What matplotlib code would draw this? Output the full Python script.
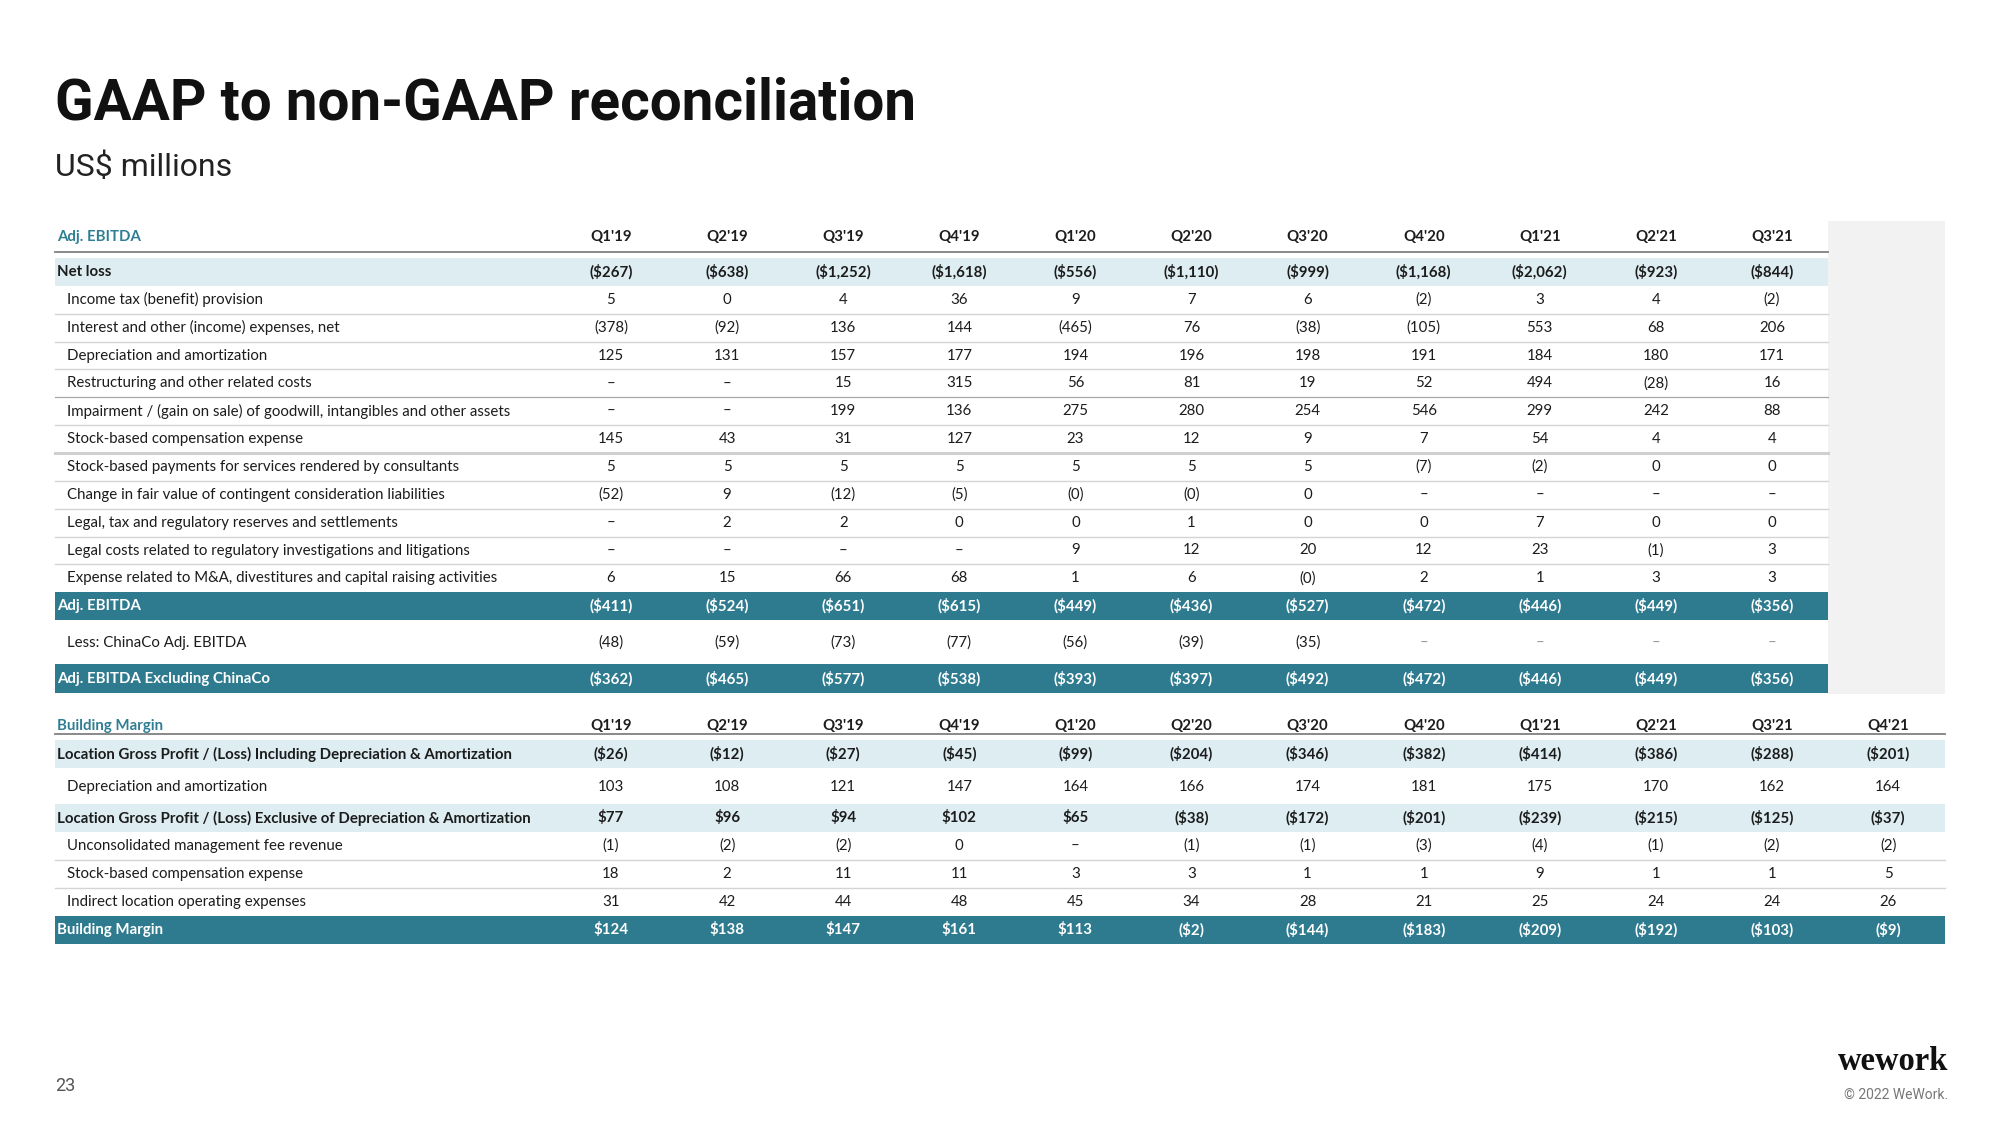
import matplotlib
matplotlib.use("Agg")
import matplotlib.pyplot as plt
from matplotlib.patches import Rectangle

# ---------------- data ----------------
quarters_top = ["Q1'19", "Q2'19", "Q3'19", "Q4'19", "Q1'20", "Q2'20", "Q3'20",
                "Q4'20", "Q1'21", "Q2'21", "Q3'21"]
quarters_bottom = quarters_top + ["Q4'21"]

net_loss = ["($267)", "($638)", "($1,252)", "($1,618)", "($556)", "($1,110)", "($999)",
            "($1,168)", "($2,062)", "($923)", "($844)"]
income_tax = ["5", "0", "4", "36", "9", "7", "6", "(2)", "3", "4", "(2)"]
interest_other = ["(378)", "(92)", "136", "144", "(465)", "76", "(38)", "(105)", "553", "68", "206"]
dep_amort = ["125", "131", "157", "177", "194", "196", "198", "191", "184", "180", "171"]
restructuring = ["–", "–", "15", "315", "56", "81", "19", "52", "494", "(28)", "16"]
impairment = ["–", "–", "199", "136", "275", "280", "254", "546", "299", "242", "88"]
sbc_expense = ["145", "43", "31", "127", "23", "12", "9", "7", "54", "4", "4"]
sb_consultants = ["5", "5", "5", "5", "5", "5", "5", "(7)", "(2)", "0", "0"]
contingent = ["(52)", "9", "(12)", "(5)", "(0)", "(0)", "0", "–", "–", "–", "–"]
legal_reserves = ["–", "2", "2", "0", "0", "1", "0", "0", "7", "0", "0"]
legal_costs = ["–", "–", "–", "–", "9", "12", "20", "12", "23", "(1)", "3"]
ma_expense = ["6", "15", "66", "68", "1", "6", "(0)", "2", "1", "3", "3"]
adj_ebitda = ["($411)", "($524)", "($651)", "($615)", "($449)", "($436)", "($527)",
              "($472)", "($446)", "($449)", "($356)"]
chinaco = ["(48)", "(59)", "(73)", "(77)", "(56)", "(39)", "(35)", "–", "–", "–", "–"]
adj_ebitda_ex_china = ["($362)", "($465)", "($577)", "($538)", "($393)", "($397)", "($492)",
                       "($472)", "($446)", "($449)", "($356)"]

lgp_incl = ["($26)", "($12)", "($27)", "($45)", "($99)", "($204)", "($346)", "($382)",
            "($414)", "($386)", "($288)", "($201)"]
bm_dep_amort = ["103", "108", "121", "147", "164", "166", "174", "181", "175", "170", "162", "164"]
lgp_excl = ["$77", "$96", "$94", "$102", "$65", "($38)", "($172)", "($201)", "($239)",
            "($215)", "($125)", "($37)"]
unconsolidated_fee = ["(1)", "(2)", "(2)", "0", "–", "(1)", "(1)", "(3)", "(4)", "(1)", "(2)", "(2)"]
bm_sbc = ["18", "2", "11", "11", "3", "3", "1", "1", "9", "1", "1", "5"]
indirect_opex = ["31", "42", "44", "48", "45", "34", "28", "21", "25", "24", "24", "26"]
building_margin = ["$124", "$138", "$147", "$161", "$113", "($2)", "($144)", "($183)",
                   "($209)", "($192)", "($103)", "($9)"]

# ---------------- style ----------------
TEAL = "#2e7b8f"
TEAL_TXT = "#2f7f94"
LIGHT = "#deedf2"
TXT = "#1c1c1c"
LINE = "#d4d4d4"
FONT = "Lato"
FS = 10.8

W, H = 2000, 1125
fig = plt.figure(figsize=(20, 11.25), dpi=100)
ax = fig.add_axes([0, 0, 1, 1])
ax.set_xlim(0, W)
ax.set_ylim(H, 0)
ax.axis("off")

X_LEFT = 55
X_LABEL = 57
X_INDENT = 67
COL0 = 611
DCOL = 116.1


def colx(i):
    return COL0 + i * DCOL


def put(x, y, s, bold=False, color=TXT, ha="center", size=FS):
    ax.text(x, y, s, ha=ha, va="center", fontsize=size, color=color,
            fontweight="bold" if bold else "normal", family=FONT)


def row(y, label, vals, kind, right, band_h=28, dash_color=None):
    bold = kind in ("band", "total")
    color = "white" if kind == "total" else TXT
    if kind == "band":
        ax.add_patch(Rectangle((X_LEFT, y - band_h / 2), right - X_LEFT, band_h,
                               facecolor=LIGHT, edgecolor="none", zorder=0))
    elif kind == "total":
        ax.add_patch(Rectangle((X_LEFT, y - band_h / 2), right - X_LEFT, band_h,
                               facecolor=TEAL, edgecolor="none", zorder=0))
    put(X_LABEL if bold else X_INDENT, y, label, bold=bold, color=color, ha="left")
    for i, v in enumerate(vals):
        c = color
        if dash_color and v == "–":
            c = dash_color
        put(colx(i), y, v, bold=bold, color=c)


# ---------------- title ----------------
ax.text(55, 104, "GAAP to non-GAAP reconciliation", ha="left", va="center",
        fontsize=40.8, fontweight="bold", family="Roboto", color="#111111")
ax.text(55, 167, "US$ millions", ha="left", va="center",
        fontsize=23, fontweight="normal", family="Roboto", color="#222222")

# ---------------- top table ----------------
TOP_RIGHT = 1828
ax.add_patch(Rectangle((TOP_RIGHT, 221), 1945 - TOP_RIGHT, 694 - 221,
                       facecolor="#f2f2f2", edgecolor="none", zorder=0))
put(X_LABEL, 237, "Adj. EBITDA", bold=True, color=TEAL_TXT, ha="left")
for i, q in enumerate(quarters_top):
    put(colx(i), 237, q, bold=True)
ax.plot([X_LEFT, TOP_RIGHT], [252, 252], color="#808080", lw=1.3)

top_rows = [
    ("Net loss", net_loss, "band"),
    ("Income tax (benefit) provision", income_tax, "plain"),
    ("Interest and other (income) expenses, net", interest_other, "plain"),
    ("Depreciation and amortization", dep_amort, "plain"),
    ("Restructuring and other related costs", restructuring, "plain"),
    ("Impairment / (gain on sale) of goodwill, intangibles and other assets", impairment, "plain"),
    ("Stock-based compensation expense", sbc_expense, "plain"),
    ("Stock-based payments for services rendered by consultants", sb_consultants, "plain"),
    ("Change in fair value of contingent consideration liabilities", contingent, "plain"),
    ("Legal, tax and regulatory reserves and settlements", legal_reserves, "plain"),
    ("Legal costs related to regulatory investigations and litigations", legal_costs, "plain"),
    ("Expense related to M&A, divestitures and capital raising activities", ma_expense, "plain"),
    ("Adj. EBITDA", adj_ebitda, "total"),
]
Y0, DY = 272, 27.85
for k, (lab, vals, kind) in enumerate(top_rows):
    y = Y0 + k * DY
    row(y, lab, vals, kind, TOP_RIGHT)
    if 1 <= k <= 10:
        yl = y + DY / 2
        if k == 4:
            ax.plot([X_LEFT, TOP_RIGHT], [yl, yl], color="#a8a8a8", lw=0.9)
        elif k == 6:
            ax.plot([X_LEFT, TOP_RIGHT], [yl, yl], color="#d0d0d0", lw=2.2)
        else:
            ax.plot([X_LEFT, TOP_RIGHT], [yl, yl], color=LINE, lw=1.0)

row(642.5, "Less: ChinaCo Adj. EBITDA", chinaco, "plain", TOP_RIGHT, dash_color="#9a9a9a")
row(678.5, "Adj. EBITDA Excluding ChinaCo", adj_ebitda_ex_china, "total", TOP_RIGHT, band_h=29)

# ---------------- bottom table ----------------
BOT_RIGHT = 1945
put(X_LABEL, 726, "Building Margin", bold=True, color=TEAL_TXT, ha="left")
for i, q in enumerate(quarters_bottom):
    put(colx(i), 726, q, bold=True)
ax.plot([X_LEFT, BOT_RIGHT], [734, 734], color="#808080", lw=1.3)

bottom_rows = [
    (754, "Location Gross Profit / (Loss) Including Depreciation & Amortization", lgp_incl, "band"),
    (787, "Depreciation and amortization", bm_dep_amort, "plain"),
    (818, "Location Gross Profit / (Loss) Exclusive of Depreciation & Amortization", lgp_excl, "band"),
    (846, "Unconsolidated management fee revenue", unconsolidated_fee, "plain"),
    (874, "Stock-based compensation expense", bm_sbc, "plain"),
    (902, "Indirect location operating expenses", indirect_opex, "plain"),
    (930, "Building Margin", building_margin, "total"),
]
for y, lab, vals, kind in bottom_rows:
    row(y, lab, vals, kind, BOT_RIGHT)
for yl in (860, 888):
    ax.plot([X_LEFT, BOT_RIGHT], [yl, yl], color=LINE, lw=1.0)

# ---------------- footer ----------------
ax.text(55, 1086, "23", ha="left", va="center", fontsize=13, family="Roboto",
        color="#555555")
ax.text(1948, 1062, "wework", ha="right", va="center", fontsize=23.5, fontweight="bold",
        family="Liberation Serif", color="#111111")
ax.text(1948, 1095, "© 2022 WeWork.", ha="right", va="center", fontsize=10,
        family="Roboto", color="#777777")

fig.savefig("out.png", dpi=100, facecolor="white")
